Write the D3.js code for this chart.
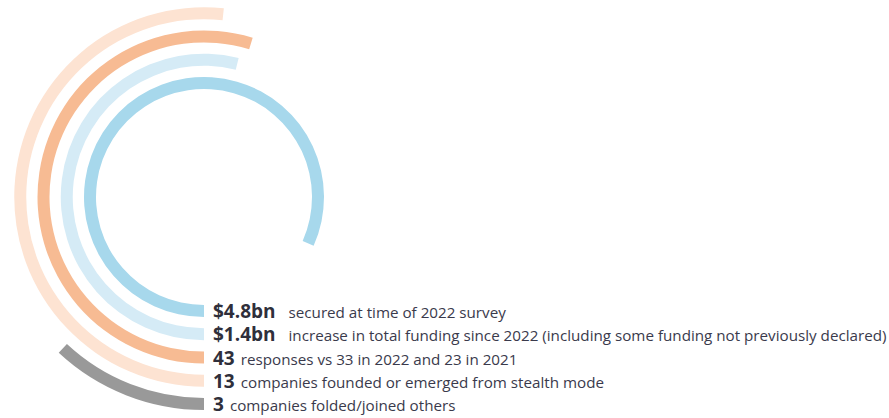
<!DOCTYPE html>
<html>
<head>
<meta charset="utf-8">
<script src="https://cdn.jsdelivr.net/npm/d3@7"></script>
<style>
  body { margin: 0; background: #fff; }
  svg { display: block; }
  .num { font-family: "Open Sans", sans-serif; font-weight: 700; font-size: 19px; fill: #2f2f3b; }
  .desc { font-family: "Open Sans", sans-serif; font-weight: 400; font-size: 15.2px; fill: #3a3a4c; }
</style>
</head>
<body>
<div id="chart"></div>
<script>
// rows, inside ring first
var figures = ['$4.8bn', '$1.4bn', '43', '13', '3'];
var captions = [
    'secured at time of 2022 survey',
    'increase in total funding since 2022 (including some funding not previously declared)',
    'responses vs 33 in 2022 and 23 in 2021',
    'companies founded or emerged from stealth mode',
    'companies folded/joined others'
];
// how far each ring sweeps round, in degrees
var sweepDegrees = [294, 194, 197, 186, 43];
var ringColors = ['#a7d8ec', '#d5ebf6', '#f7bb93', '#fde3d2', '#999999'];

var svgWidth = 889;
var svgHeight = 418;

var center = { x: 204, y: 197 };
var ringWidth = 12;

var svg = d3.select('#chart')
    .append('svg')
    .attr('width', svgWidth)
    .attr('height', svgHeight);

var rows = figures.map(function (f, i) { return i; });

// ring radius per row
var radius = d3.scalePoint()
    .domain(rows)
    .range([114, 207]);

var sweep = d3.scaleLinear()
    .domain([0, 360])
    .range([0, 2 * Math.PI]);

var color = d3.scaleOrdinal()
    .domain(rows)
    .range(ringColors);

var arc = d3.arc()
    .innerRadius(d => radius(d) - ringWidth / 2)
    .outerRadius(d => radius(d) + ringWidth / 2)
    .startAngle(Math.PI)
    .endAngle(d => Math.PI + sweep(sweepDegrees[d]));

var ringGroup = svg.append('g')
    .attr('transform', `translate(${center.x}, ${center.y})`);

ringGroup.selectAll('path')
    .data(rows)
    .enter()
    .append('path')
    .attr('d', arc)
    .attr('fill', d => color(d));

// labels sit at the bottom end of each ring
var labelGroup = svg.append('g')
    .attr('transform', `translate(${center.x + 9}, ${center.y})`);

var numbers = labelGroup.selectAll('.num')
    .data(rows)
    .enter()
    .append('text')
    .classed('num', true)
    .attr('x', 0)
    .attr('y', d => radius(d) + 7)
    .text(d => figures[d]);

// caption follows its number, the money rows get a wider gap
var numWidths = [];
numbers.each(function (d) { numWidths[d] = this.getComputedTextLength(); });

labelGroup.selectAll('.desc')
    .data(rows)
    .enter()
    .append('text')
    .classed('desc', true)
    .attr('x', d => numWidths[d] + (/bn$/.test(figures[d]) ? 13 : 6))
    .attr('y', d => radius(d) + 7)
    .text(d => captions[d]);
</script>
</body>
</html>
